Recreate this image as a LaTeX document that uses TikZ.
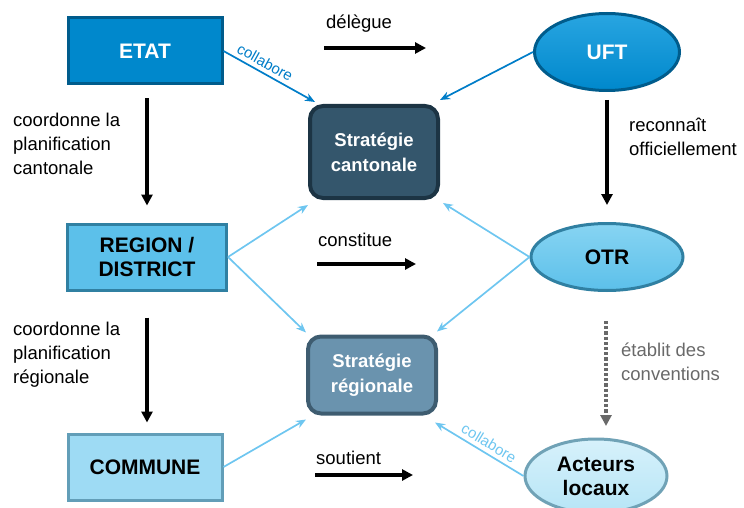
\documentclass[tikz,border=0pt]{standalone}
\usepackage{fontspec}
\setmainfont{Liberation Sans}
\usepackage{xcolor}
\usetikzlibrary{arrows.meta, positioning, shapes.geometric}

\definecolor{etatblue}{RGB}{0,136,204}
\definecolor{etatedge}{RGB}{0,92,140}
\definecolor{etatlight}{RGB}{40,165,225}
\definecolor{cantfill}{RGB}{52,86,108}
\definecolor{cantedge}{RGB}{28,52,68}
\definecolor{regfill}{RGB}{92,192,234}
\definecolor{regedge}{RGB}{48,128,162}
\definecolor{reglight}{RGB}{135,212,242}
\definecolor{rgnfill}{RGB}{106,147,174}
\definecolor{rgnedge}{RGB}{62,92,112}
\definecolor{comfill}{RGB}{158,219,244}
\definecolor{comedge}{RGB}{98,158,184}
\definecolor{actfill}{RGB}{182,229,246}
\definecolor{actedge}{RGB}{112,162,182}
\definecolor{actlight}{RGB}{215,241,251}
\definecolor{linkdark}{RGB}{0,125,200}
\definecolor{linklight}{RGB}{110,198,240}
\definecolor{convgray}{RGB}{105,105,105}

\begin{document}
\begin{tikzpicture}[x=1pt, y=-1pt,
    levelbox/.style={rectangle, draw, line width=3pt, minimum width=154pt,
        minimum height=66pt, align=center, font=\fontsize{21}{24}\selectfont\bfseries},
    orgellipse/.style={ellipse, draw, line width=3pt, inner sep=0pt, align=center,
        font=\fontsize{21}{24}\selectfont\bfseries},
    stratbox/.style={rectangle, rounded corners=13pt, draw, line width=4pt,
        minimum width=128pt, align=center, text=white,
        font=\fontsize{18.5}{25}\selectfont\bfseries},
    txt/.style={align=left, anchor=north west, inner sep=0pt,
        font=\fontsize{18.5}{24}\selectfont},
    flow/.style={-{Triangle[length=11pt, width=11pt]}, line width=3.2pt},
    link/.style={-{Stealth[length=10pt, width=8pt]}, line width=1.7pt},
    linklab/.style={sloped, above, inner sep=4pt, font=\fontsize{15}{18}\selectfont}
]
    \useasboundingbox (0,0) rectangle (744,508);

    % left column
    \node[levelbox, fill=etatblue, draw=etatedge, text=white] (etat) at (145,51) {ETAT};
    \node[levelbox, fill=regfill, draw=regedge, minimum width=159pt] (region) at (147,257) {REGION /\\DISTRICT};
    \node[levelbox, fill=comfill, draw=comedge] (commune) at (145,467) {COMMUNE};

    % strategies
    \node[stratbox, fill=cantfill, draw=cantedge, minimum height=92pt] (cant) at (374,152) {Stratégie\\cantonale};
    \node[stratbox, fill=rgnfill, draw=rgnedge, minimum height=77pt] (rgn) at (372,375) {Stratégie\\régionale};

    % right column
    \node[orgellipse, top color=etatlight, bottom color=etatblue, draw=etatedge, text=white, minimum width=145pt, minimum height=77pt] (uft) at (607,52) {UFT};
    \node[orgellipse, top color=reglight, bottom color=regfill, draw=regedge, minimum width=152pt, minimum height=67pt] (otr) at (607,257) {OTR};
    \node[orgellipse, top color=actlight, bottom color=actfill, draw=actedge, minimum width=142pt, minimum height=74pt] (acteurs) at (596,476) {Acteurs\\locaux};

    % labels
    \node[txt] (coordcant) at (13,113) {coordonne la\\planification\\cantonale};
    \node[txt] (coordreg) at (13,322) {coordonne la\\planification\\régionale};
    \node[txt] (reconnait) at (629,118) {reconnaît\\officiellement};
    \node[txt, text=convgray] (conv) at (621,343) {établit des\\conventions};
    \node[txt] (delegue) at (326,15) {délègue};
    \node[txt] (constitue) at (318,233) {constitue};
    \node[txt] (soutient) at (316,451) {soutient};

    \coordinate (del1) at (324,48);
    \coordinate (del2) at (426,48);
    \coordinate (con1) at (317,264);
    \coordinate (con2) at (416,264);
    \coordinate (sou1) at (315,475);
    \coordinate (sou2) at (413,475);
    \coordinate (conv1) at (606,321);
    \coordinate (conv2) at (606,426);

    % black arrows
    \draw[flow] (del1) -- (del2);
    \draw[flow] (con1) -- (con2);
    \draw[flow] (sou1) -- (sou2);
    \draw[flow, shorten <=13pt, shorten >=17pt] (etat.south -| region) -- (region.north);
    \draw[flow, shorten <=26pt, shorten >=10pt] (region.south) -- (commune.north -| region);
    \draw[flow, shorten <=8pt, shorten >=17pt] (uft.south) -- (otr.north);
    \draw[flow, convgray, dotted, line width=3.2pt] (conv1) -- (conv2);

    % links to strategies
    \draw[link, linkdark] (etat.east) -- node[linklab, pos=0.4, text=linkdark] {collabore} ([xshift=7pt, yshift=2pt]cant.north west);
    \draw[link, linkdark] (uft.west) -- ([yshift=4pt]cant.north east);
    \draw[link, linklight] (region.east) -- ([yshift=-5pt]cant.south west);
    \draw[link, linklight] (region.east) -- ([yshift=2pt]rgn.north west);
    \draw[link, linklight] (otr.west) -- ([xshift=3pt, yshift=-3pt]cant.south east);
    \draw[link, linklight] (otr.west) -- ([xshift=-1pt, yshift=3pt]rgn.north east);
    \draw[link, linklight] (commune.east) -- ([yshift=-4pt]rgn.south west);
    \draw[link, linklight] (acteurs.west) -- node[linklab, pos=0.45, text=linklight] {collabore} ([xshift=-3pt, yshift=-7pt]rgn.south east);
\end{tikzpicture}
\end{document}
